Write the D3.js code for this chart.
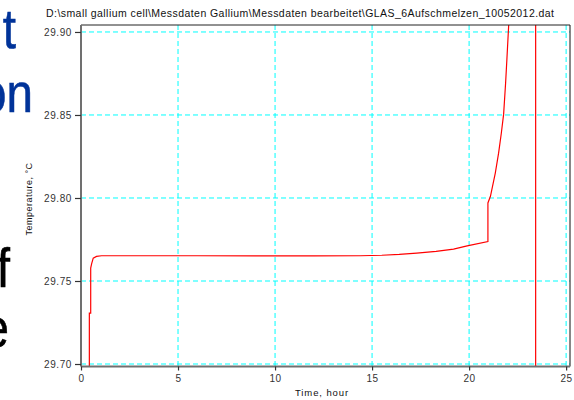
<!DOCTYPE html>
<html lang="en">
<head>
    <meta charset="UTF-8">
    <title>GLAS_6Aufschmelzen</title>
    <script src="https://d3js.org/d3.v7.min.js"></script>
    <style>
        body, html { margin: 0; background: #ffffff; }
        svg { display: block; }
        .title { font-family: 'Liberation Sans', Arial, sans-serif; font-size: 10.5px; fill: #111; }
        .tick text { font-family: 'Liberation Sans', Arial, sans-serif; font-size: 10px; fill: #333; letter-spacing: 0.6px; }
        .axis-label { font-family: 'Liberation Sans', Arial, sans-serif; font-size: 9px; fill: #111; letter-spacing: 0.5px; }
        .slide { font-family: 'Liberation Sans', Arial, sans-serif; font-size: 56px; }
    </style>
</head>
<body>
    <svg width="574" height="400"></svg>
    <script>
        const width = 574, height = 400;

        // measured data (hours, deg C)
        const timeHours = [0.43, 0.43, 0.50, 0.50, 0.55, 0.63, 0.80, 1.06, 3, 6, 9, 12, 14.4, 15.5, 16.4, 17.3, 18.3, 19.2, 19.9, 20.97, 20.97, 21.10, 21.35, 21.52, 21.66, 21.78, 21.88, 21.95, 22.04, 22.3, 23.43, 23.43];
        const tempC = [29.60, 29.7307, 29.7307, 29.7578, 29.7605, 29.7638, 29.7648, 29.7652, 29.7652, 29.7652, 29.7651, 29.7651, 29.7652, 29.7655, 29.7660, 29.7668, 29.7678, 29.7692, 29.7712, 29.7738, 29.797, 29.801, 29.815, 29.827, 29.839, 29.8505, 29.869, 29.884, 29.904, 29.95, 29.95, 29.60];

        const xTicks = [0, 5, 10, 15, 20, 25];
        const yTicks = [29.70, 29.75, 29.80, 29.85, 29.90];
        const fileName = "D:\\small gallium cell\\Messdaten Gallium\\Messdaten bearbeitet\\GLAS_6Aufschmelzen_10052012.dat";

        // leftover slide text on the left edge
        const slideWords = [
            {text: "t", x: 16, y: 48, color: "#003399"},
            {text: "on", x: 33, y: 112, color: "#003399"},
            {text: "f", x: 10, y: 287, color: "#000000"},
            {text: "e", x: 9, y: 347, color: "#000000"}
        ];

        const plotL = 81, plotR = 570, plotT = 25, plotB = 366.5;

        const svg = d3.select("svg");

        const x = d3.scaleLinear().domain([0, 25.2]).range([plotL, plotR]);
        const y = d3.scaleLinear().domain([29.6985, 29.9042]).range([plotB, plotT]);

        svg.selectAll("text.slide")
            .data(slideWords)
            .enter().append("text")
            .attr("class", "slide")
            .attr("text-anchor", "end")
            .attr("transform", d => `translate(${d.x},${d.y}) scale(0.85,1)`)
            .attr("fill", d => d.color)
            .attr("stroke", d => d.color)
            .attr("stroke-width", 0.6)
            .text(d => d.text);

        svg.append("text")
            .attr("class", "title")
            .attr("x", 300)
            .attr("y", 17)
            .attr("text-anchor", "middle")
            .attr("textLength", 508)
            .attr("lengthAdjust", "spacing")
            .text(fileName);

        svg.append("defs").append("clipPath")
            .attr("id", "plot-clip")
            .append("rect")
            .attr("x", plotL).attr("y", plotT)
            .attr("width", plotR - plotL).attr("height", plotB - plotT);

        // grid
        const grid = svg.append("g").attr("stroke", "#00ffff").attr("stroke-dasharray", "5,3").attr("stroke-width", 1);
        grid.selectAll("line.gx")
            .data(xTicks.filter(d => d > 0))
            .enter().append("line")
            .attr("x1", d => x(d)).attr("x2", d => x(d))
            .attr("y1", plotT).attr("y2", plotB);
        grid.selectAll("line.gy")
            .data(yTicks)
            .enter().append("line")
            .attr("x1", plotL).attr("x2", plotR)
            .attr("y1", d => y(d)).attr("y2", d => y(d));

        // curve
        const points = timeHours.map((t, i) => [t, tempC[i]]);
        const line = d3.line().x(d => x(d[0])).y(d => y(d[1]));
        svg.append("path")
            .datum(points)
            .attr("clip-path", "url(#plot-clip)")
            .attr("fill", "none")
            .attr("stroke", "#ff0000")
            .attr("stroke-width", 1.2)
            .attr("d", line);

        // frame
        svg.append("line").attr("x1", plotL).attr("x2", plotR).attr("y1", plotT).attr("y2", plotT).attr("stroke", "#222");
        svg.append("line").attr("x1", plotR).attr("x2", plotR).attr("y1", plotT).attr("y2", plotB).attr("stroke", "#111");

        const yAxis = svg.append("g")
            .attr("transform", `translate(${plotL},0)`)
            .call(d3.axisLeft(y).tickValues(yTicks).tickFormat(d3.format(".2f")).tickSize(6).tickPadding(3));
        const xAxis = svg.append("g")
            .attr("transform", `translate(0,${plotB})`)
            .call(d3.axisBottom(x).tickValues(xTicks).tickFormat(d3.format("d")).tickSize(4).tickPadding(4));

        [yAxis, xAxis].forEach(g => {
            g.select(".domain").attr("stroke", "#707070").attr("stroke-width", 2);
            g.selectAll(".tick line").attr("stroke", "#333").attr("stroke-width", 1.2);
        });
        yAxis.select(".domain").attr("d", `M0,${plotT}V${plotB}`);
        xAxis.select(".domain").attr("d", `M${plotL},0H${plotR}`);

        svg.append("text")
            .attr("class", "axis-label")
            .attr("transform", `translate(32,199) rotate(-90)`)
            .attr("text-anchor", "middle")
            .text("Temperature, °C");

        svg.append("text")
            .attr("class", "axis-label")
            .attr("x", 322)
            .attr("y", 396)
            .attr("text-anchor", "middle")
            .style("font-size", "9.5px")
            .style("letter-spacing", "0.9px")
            .text("Time, hour");
    </script>
</body>
</html>
